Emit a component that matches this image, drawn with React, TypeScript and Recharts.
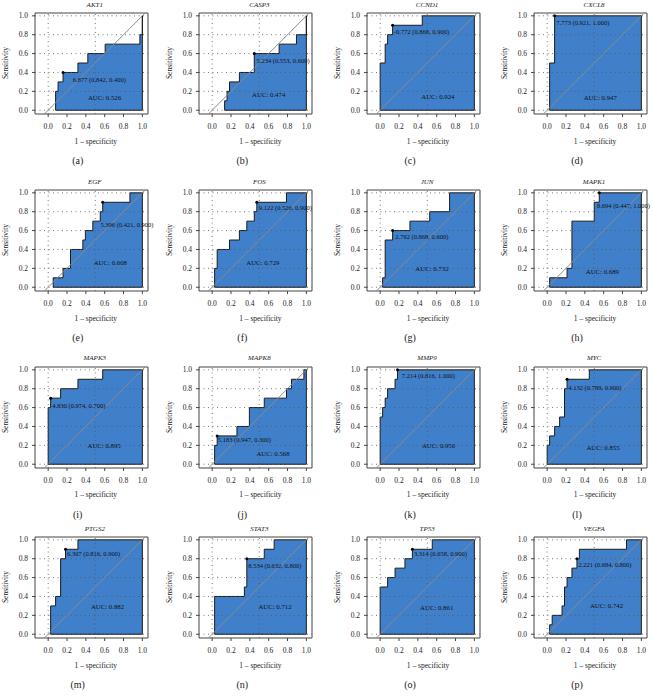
import React from "react";
import {
  ComposedChart,
  Area,
  XAxis,
  YAxis,
  ReferenceLine,
  ReferenceDot,
  ReferenceArea,
} from "recharts";

// gene panels, in reading order
const genes = [
  "AKT1", "CASP3", "CCND1", "CXCL8",
  "EGF", "FOS", "JUN", "MAPK1",
  "MAPK3", "MAPK8", "MMP9", "MYC",
  "PTGS2", "STAT3", "TP53", "VEGFA",
];
const tags = ["(a)", "(b)", "(c)", "(d)", "(e)", "(f)", "(g)", "(h)", "(i)", "(j)", "(k)", "(l)", "(m)", "(n)", "(o)", "(p)"];
const aucValues = [0.526, 0.474, 0.924, 0.947, 0.608, 0.729, 0.732, 0.689, 0.895, 0.568, 0.95, 0.855, 0.882, 0.712, 0.861, 0.742];
const cutoffs = ["6.877", "5.234", "-0.772", "7.773", "5.396", "9.122", "2.762", "8.694", "4.830", "5.183", "7.214", "4.132", "6.307", "8.534", "3.314", "2.221"];
const cutSpecificity = [0.842, 0.553, 0.868, 0.921, 0.421, 0.526, 0.868, 0.447, 0.974, 0.947, 0.816, 0.789, 0.816, 0.632, 0.658, 0.684];
const cutSensitivity = [0.4, 0.6, 0.9, 1.0, 0.9, 0.9, 0.6, 1.0, 0.7, 0.3, 1.0, 0.9, 0.9, 0.8, 0.9, 0.8];

// ROC steps: [1 - specificity where sensitivity rises, new sensitivity]
const stepsAKT1 = [[0.079, 0.2], [0.105, 0.3], [0.158, 0.4], [0.316, 0.5], [0.421, 0.6], [0.605, 0.7], [0.974, 0.8], [1, 1]];
const stepsCASP3 = [[0.132, 0.1], [0.158, 0.2], [0.184, 0.3], [0.289, 0.4], [0.447, 0.6], [0.711, 0.7], [0.895, 0.8], [1, 1]];
const stepsCCND1 = [[0, 0.5], [0.053, 0.7], [0.079, 0.8], [0.132, 0.9], [0.447, 1], [1, 1]];
const stepsCXCL8 = [[0.026, 0.5], [0.079, 1], [1, 1]];
const stepsEGF = [[0.053, 0.1], [0.158, 0.2], [0.237, 0.4], [0.368, 0.5], [0.395, 0.6], [0.474, 0.7], [0.553, 0.8], [0.579, 0.9], [0.868, 1], [1, 1]];
const stepsFOS = [[0.026, 0.2], [0.053, 0.4], [0.184, 0.5], [0.289, 0.6], [0.368, 0.7], [0.447, 0.8], [0.474, 0.9], [0.789, 1], [1, 1]];
const stepsJUN = [[0.026, 0.1], [0.053, 0.5], [0.132, 0.6], [0.316, 0.7], [0.526, 0.8], [0.737, 1], [1, 1]];
const stepsMAPK1 = [[0.026, 0.1], [0.211, 0.2], [0.263, 0.7], [0.5, 0.9], [0.553, 1], [1, 1]];
const stepsMAPK3 = [[0, 0.6], [0.026, 0.7], [0.132, 0.8], [0.316, 0.9], [0.579, 1], [1, 1]];
const stepsMAPK8 = [[0.026, 0.2], [0.053, 0.3], [0.263, 0.4], [0.395, 0.6], [0.553, 0.7], [0.789, 0.8], [0.842, 0.9], [0.974, 1], [1, 1]];
const stepsMMP9 = [[0, 0.5], [0.026, 0.6], [0.053, 0.7], [0.079, 0.8], [0.158, 0.9], [0.184, 1], [1, 1]];
const stepsMYC = [[0, 0.2], [0.026, 0.3], [0.079, 0.4], [0.132, 0.5], [0.184, 0.8], [0.211, 0.9], [0.447, 1], [1, 1]];
const stepsPTGS2 = [[0.026, 0.3], [0.079, 0.4], [0.132, 0.8], [0.184, 0.9], [0.316, 1], [1, 1]];
const stepsSTAT3 = [[0.026, 0.4], [0.342, 0.5], [0.368, 0.8], [0.553, 0.9], [0.658, 1], [1, 1]];
const stepsTP53 = [[0, 0.5], [0.079, 0.6], [0.158, 0.7], [0.263, 0.8], [0.342, 0.9], [0.553, 1], [1, 1]];
const stepsVEGFA = [[0.026, 0.1], [0.053, 0.2], [0.158, 0.3], [0.184, 0.5], [0.211, 0.6], [0.263, 0.7], [0.316, 0.8], [0.342, 0.9], [0.842, 1], [1, 1]];

const rocSteps = [
  stepsAKT1, stepsCASP3, stepsCCND1, stepsCXCL8,
  stepsEGF, stepsFOS, stepsJUN, stepsMAPK1,
  stepsMAPK3, stepsMAPK8, stepsMMP9, stepsMYC,
  stepsPTGS2, stepsSTAT3, stepsTP53, stepsVEGFA,
];

const axisTicks = [0, 0.2, 0.4, 0.6, 0.8, 1.0];

// layout (pixels / data positions of text), not data
const colX0 = [47.7, 212.3, 380, 547];
const rowY1 = [16, 193, 369.7, 540];
const UNIT = 113 / 1.2;
const cutLabelOffset = [
  [9.7, 7.3], [2.3, 7], [1.3, 6.7], [1.7, 6.7],
  [-2.3, 22.7], [2, 5], [2.7, 6.3], [-2.3, 12.7],
  [1.7, 7], [0.7, 3.7], [4.3, 6], [1.3, 8],
  [1.5, 4], [1.5, 7], [1.5, 4], [1.5, 6],
];
const aucPos = [
  [0.598, 0.138], [0.6, 0.17], [0.613, 0.145], [0.564, 0.14],
  [0.66, 0.267], [0.538, 0.267], [0.55, 0.2], [0.586, 0.167],
  [0.594, 0.2], [0.646, 0.117], [0.62, 0.203], [0.593, 0.174],
  [0.63, 0.29], [0.667, 0.29], [0.6, 0.28], [0.63, 0.3],
];

const SERIF = '"Liberation Serif", "DejaVu Serif", serif';
const BLUE = "#4080CB";
const INK = "#1c1c1c";

const tickStyle = { fill: "#222", fontSize: 7.5, fontFamily: SERIF };

function RocPanel({ idx }: { idx: number }) {
  const col = idx % 4;
  const row = Math.floor(idx / 4);
  const x0 = colX0[col];
  const y1 = rowY1[row];
  const boxLeft = x0 - 0.14 * UNIT;
  const boxTop = y1 - 0.03 * UNIT;
  const steps = rocSteps[idx];
  const data = [
    { fpr: steps[0][0], tpr: 0 },
    ...steps.map(([f, t]) => ({ fpr: f, tpr: t })),
  ];
  const cutText = `${cutoffs[idx]} (${cutSpecificity[idx].toFixed(3)}, ${cutSensitivity[idx].toFixed(3)})`;
  const [dx, dy] = cutLabelOffset[idx];

  const text = (style: React.CSSProperties, content: string) => (
    <div
      style={{
        position: "absolute",
        transform: "translate(-50%, -50%)",
        whiteSpace: "nowrap",
        lineHeight: 1,
        fontFamily: SERIF,
        color: "#222",
        ...style,
      }}
    >
      {content}
    </div>
  );

  return (
    <>
      <div style={{ position: "absolute", left: boxLeft - 34, top: boxTop - 14 }}>
        <ComposedChart
          width={157}
          height={145}
          data={data}
          margin={{ top: 14, right: 10, bottom: 10, left: 4 }}
        >
          <XAxis
            dataKey="fpr"
            type="number"
            domain={[-0.14, 1.06]}
            ticks={axisTicks}
            interval={0}
            allowDataOverflow
            axisLine={false}
            tickLine={{ stroke: "#444" }}
            tickSize={3}
            tickMargin={7}
            height={20}
            tick={tickStyle}
            tickFormatter={(v: number) => v.toFixed(1)}
          />
          <YAxis
            type="number"
            domain={[-0.04, 1.03]}
            ticks={axisTicks}
            interval={0}
            allowDataOverflow
            axisLine={false}
            tickLine={{ stroke: "#444" }}
            tickSize={3}
            tickMargin={4}
            width={30}
            tick={tickStyle}
            tickFormatter={(v: number) => v.toFixed(1)}
          />
          {axisTicks.map((t) => (
            <ReferenceLine key={"h" + t} y={t} stroke="#555" strokeWidth={0.8} strokeDasharray="1 3.5" />
          ))}
          {[0, 0.5].map((t) => (
            <ReferenceLine key={"v" + t} x={t} stroke="#555" strokeWidth={0.8} strokeDasharray="1 3.5" />
          ))}
          <Area
            type="stepAfter"
            dataKey="tpr"
            baseValue={0}
            fill={BLUE}
            fillOpacity={1}
            stroke={INK}
            strokeWidth={1}
            dot={false}
            activeDot={false}
            isAnimationActive={false}
          />
          <ReferenceLine
            segment={[{ x: -0.04, y: -0.04 }, { x: 1.03, y: 1.03 }]}
            stroke="#8a8a8a"
            strokeWidth={1}
          />
          <ReferenceLine segment={[{ x: data[0].fpr, y: 0 }, { x: 1, y: 0 }]} stroke={INK} strokeWidth={1} />
          <ReferenceLine segment={[{ x: 1, y: 0 }, { x: 1, y: 1 }]} stroke={INK} strokeWidth={1} />
          <ReferenceArea x1={-0.14} x2={1.06} y1={-0.04} y2={1.03} fill="none" stroke="#444" strokeWidth={1} />
          <ReferenceDot
            x={1 - cutSpecificity[idx]}
            y={cutSensitivity[idx]}
            r={1.5}
            shape={(p: any) => (
              <g>
                <circle cx={p.cx} cy={p.cy} r={1.5} fill="#000" />
                <text
                  x={p.cx + dx}
                  y={p.cy + dy}
                  fontSize={6.5}
                  fontFamily={SERIF}
                  fill="#111"
                  dominantBaseline="central"
                >
                  {cutText}
                </text>
              </g>
            )}
          />
          <ReferenceDot
            x={aucPos[idx][0]}
            y={aucPos[idx][1]}
            r={0}
            shape={(p: any) => (
              <text
                x={p.cx}
                y={p.cy}
                fontSize={6.8}
                fontFamily={SERIF}
                fill="#111"
                textAnchor="middle"
                dominantBaseline="central"
              >
                {`AUC: ${aucValues[idx].toFixed(3)}`}
              </text>
            )}
          />
        </ComposedChart>
      </div>
      {text({ left: x0 + 0.5 * UNIT, top: y1 - 11.5, fontSize: 7, fontStyle: "italic" }, genes[idx])}
      {text(
        { left: x0 - 42, top: y1 + 0.5 * UNIT, fontSize: 7.5, transform: "translate(-50%, -50%) rotate(-90deg)" },
        "Sensitivity"
      )}
      {text({ left: x0 + 0.5 * UNIT + 1, top: y1 + 125.5, fontSize: 7.5 }, "1 – specificity")}
      {text({ left: x0 + 30, top: y1 + 145, fontSize: 10 }, tags[idx])}
    </>
  );
}

export default function App() {
  return (
    <div
      style={{
        position: "absolute",
        left: 0,
        top: 0,
        width: 653,
        height: 697,
        background: "#fff",
        overflow: "hidden",
      }}
    >
      {genes.map((g, i) => (
        <RocPanel key={g} idx={i} />
      ))}
    </div>
  );
}
